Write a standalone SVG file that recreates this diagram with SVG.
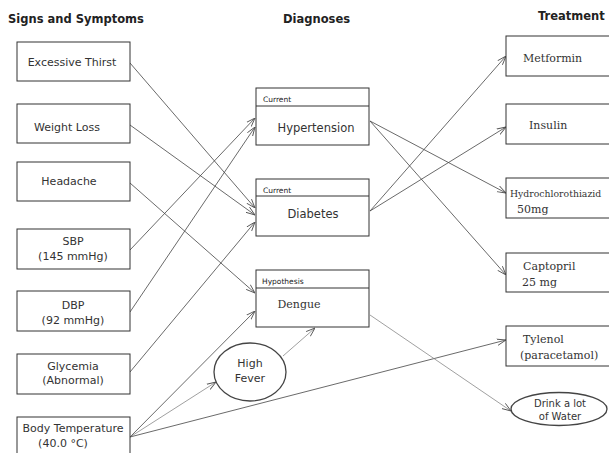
<svg xmlns="http://www.w3.org/2000/svg" width="609" height="453" viewBox="0 0 609 453">
<style>
.hdr{font-family:"DejaVu Sans",sans-serif;font-weight:bold;font-size:11.5px;fill:#222}
.box{fill:#fff;stroke:#333;stroke-width:1}
.lbl{font-family:"DejaVu Sans",sans-serif;font-size:11px;fill:#333;text-anchor:middle}
.tag{font-family:"DejaVu Sans",sans-serif;font-size:7.5px;fill:#222}
.srf{font-family:"DejaVu Serif",serif;font-size:11px;fill:#333}
.c{fill:none;stroke:#444;stroke-width:0.8;marker-end:url(#a)}
.g{fill:none;stroke:#888;stroke-width:0.8;marker-end:url(#a)}
</style>
<defs>
<marker id="a" viewBox="0 0 10 10" refX="10" refY="5" markerWidth="9" markerHeight="9" markerUnits="userSpaceOnUse" orient="auto">
<path d="M0,1.5 L10,5 L0,8.5" fill="none" stroke="#555" stroke-width="1"/>
</marker>
</defs>
<rect width="609" height="453" fill="#fff"/>
<text class="hdr" x="8" y="23">Signs and Symptoms</text>
<text class="hdr" x="283" y="23">Diagnoses</text>
<text class="hdr" x="538" y="20">Treatment</text>

<g id="connectors">
<line class="c" x1="130" y1="63" x2="255" y2="208"/>
<line class="c" x1="130" y1="125" x2="255" y2="215"/>
<line class="c" x1="130" y1="183" x2="255" y2="293"/>
<line class="c" x1="130" y1="250" x2="255" y2="118"/>
<line class="c" x1="130" y1="312" x2="255" y2="127"/>
<line class="c" x1="130" y1="372" x2="255" y2="222"/>
<line class="c" x1="130" y1="437" x2="255" y2="311"/>
<line class="g" x1="130" y1="437" x2="216" y2="382"/>
<line class="c" x1="130" y1="437" x2="506" y2="340"/>
<line class="g" x1="283" y1="356" x2="315" y2="328"/>
<line class="c" x1="370" y1="211" x2="506" y2="56"/>
<line class="c" x1="370" y1="211" x2="506" y2="127"/>
<line class="c" x1="370" y1="121" x2="506" y2="193"/>
<line class="c" x1="370" y1="121" x2="506" y2="275"/>
<line class="g" x1="370" y1="315" x2="511" y2="411"/>
</g>

<g id="excessive-thirst"><rect class="box" x="17" y="42" width="113" height="39"/><text class="lbl" x="72" y="66">Excessive Thirst</text></g>
<g id="weight-loss"><rect class="box" x="17" y="104" width="113" height="39"/><text class="lbl" x="67" y="131">Weight Loss</text></g>
<g id="headache"><rect class="box" x="17" y="162" width="113" height="39"/><text class="lbl" x="69" y="185">Headache</text></g>
<g id="sbp"><rect class="box" x="17" y="229" width="113" height="40"/><text class="lbl" x="73" y="245">SBP</text><text class="lbl" x="73" y="260">(145 mmHg)</text></g>
<g id="dbp"><rect class="box" x="17" y="291" width="113" height="40"/><text class="lbl" x="73" y="309">DBP</text><text class="lbl" x="73" y="324">(92 mmHg)</text></g>
<g id="glycemia"><rect class="box" x="17" y="354" width="113" height="40"/><text class="lbl" x="73" y="370">Glycemia</text><text class="lbl" x="73" y="384">(Abnormal)</text></g>
<g id="body-temperature"><rect class="box" x="17" y="417" width="113" height="40"/><text class="lbl" x="73" y="432">Body Temperature</text><text class="lbl" x="63" y="447">(40.0 °C)</text></g>

<g id="hypertension"><rect class="box" x="256" y="88" width="113" height="57"/><line x1="256" y1="106" x2="369" y2="106" stroke="#333"/><text class="tag" x="263" y="102">Current</text><text class="lbl" x="316" y="132" style="font-size:11.5px">Hypertension</text></g>
<g id="diabetes"><rect class="box" x="256" y="179" width="113" height="57"/><line x1="256" y1="196" x2="369" y2="196" stroke="#333"/><text class="tag" x="263" y="193">Current</text><text class="lbl" x="313" y="218" style="font-size:11.5px">Diabetes</text></g>
<g id="dengue"><rect class="box" x="256" y="270" width="113" height="57"/><line x1="256" y1="288" x2="369" y2="288" stroke="#333"/><text class="tag" x="262" y="284">Hypothesis</text><text class="srf" x="299" y="308" text-anchor="middle">Dengue</text></g>

<g id="high-fever"><ellipse cx="250" cy="372" rx="36" ry="29" fill="#fff" stroke="#444" stroke-width="1.3"/><text class="lbl" x="250" y="367">High</text><text class="lbl" x="250" y="382">Fever</text></g>

<g id="metformin"><rect class="box" x="506" y="36" width="106" height="40"/><text class="srf" x="523" y="62">Metformin</text></g>
<g id="insulin"><rect class="box" x="506" y="104" width="106" height="40"/><text class="srf" x="529" y="129">Insulin</text></g>
<g id="hydrochlorothiazid"><rect class="box" x="506" y="178" width="106" height="40"/><text class="srf" x="510" y="197" style="font-size:9.3px">Hydrochlorothiazid</text><text class="srf" x="517" y="213">50mg</text></g>
<g id="captopril"><rect class="box" x="506" y="253" width="106" height="39"/><text class="srf" x="523" y="270">Captopril</text><text class="srf" x="522" y="286">25 mg</text></g>
<g id="tylenol"><rect class="box" x="506" y="326" width="106" height="40"/><text class="srf" x="523" y="343">Tylenol</text><text class="srf" x="520" y="359">(paracetamol)</text></g>
<g id="drink-water"><ellipse cx="559" cy="409" rx="48" ry="16.5" fill="#fff" stroke="#444" stroke-width="1.3"/><text class="lbl" x="560" y="407" style="font-size:10px">Drink a lot</text><text class="lbl" x="560" y="420" style="font-size:10px">of Water</text></g>
</svg>
